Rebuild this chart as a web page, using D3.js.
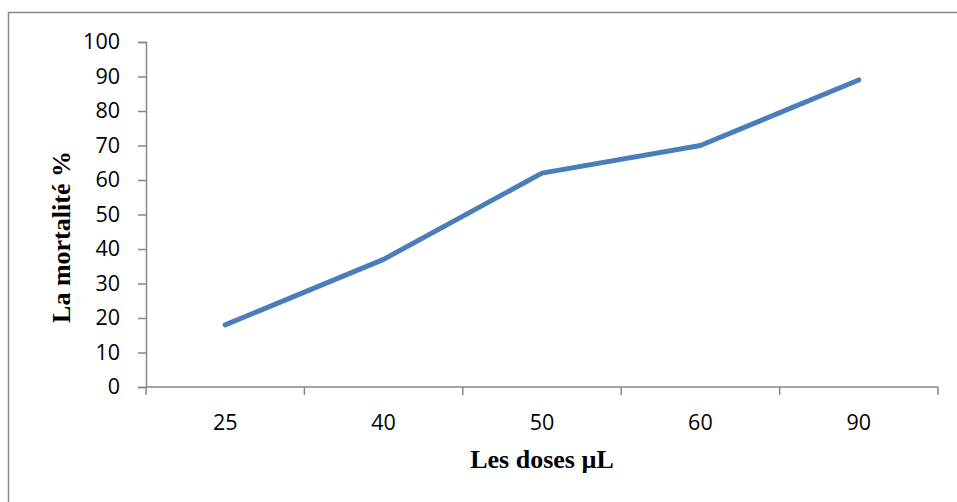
<!DOCTYPE html>
<html>
<head>
<meta charset="utf-8">
<script src="https://cdn.jsdelivr.net/npm/d3@7"></script>
<style>
  html, body { margin: 0; padding: 0; background: #fff; }
  svg { display: block; }
</style>
</head>
<body>
<svg id="chart" width="957" height="502"></svg>
<script>
// Mortality (%) by dose (µL)
const doses = ["25", "40", "50", "60", "90"];
const mortality = [18, 37, 62, 70, 89];
const yTicks = [0, 10, 20, 30, 40, 50, 60, 70, 80, 90, 100];
const xTitle = "Les doses µL";
const yTitle = "La mortalité %";

const svg = d3.select("#chart");
const axisColor = "#868686";
const lineColor = "#4A7EBB";

// chart frame
svg.append("rect")
  .attr("x", 8.5).attr("y", 12.5)
  .attr("width", 960).attr("height", 500)
  .attr("fill", "#fff")
  .attr("stroke", "#8c8c8c")
  .attr("stroke-width", 1.5);

const plot = { left: 146, right: 938, top: 42, bottom: 387 };

const x = d3.scaleBand().domain(doses).range([plot.left, plot.right]);
const y = d3.scaleLinear().domain([0, 100]).range([plot.bottom, plot.top]);

// y axis
const gy = svg.append("g").attr("transform", `translate(${plot.left},0)`)
  .call(d3.axisLeft(y).tickValues(yTicks).tickSize(8).tickPadding(18));
gy.select(".domain").attr("stroke", axisColor).attr("stroke-width", 1.5);
gy.selectAll(".tick line").attr("stroke", axisColor).attr("stroke-width", 1.5);
gy.selectAll(".tick text")
  .attr("fill", "#000")
  .style("font-family", "'Open Sans', sans-serif")
  .style("font-size", "21.5px");

// x axis: ticks sit on band boundaries
const gx = svg.append("g").attr("transform", `translate(0,${plot.bottom})`);
gx.append("line")
  .attr("x1", plot.left).attr("x2", plot.right)
  .attr("y1", 0).attr("y2", 0)
  .attr("stroke", axisColor).attr("stroke-width", 1.5);
const bounds = doses.map(d => x(d)).concat([plot.right]);
gx.selectAll("line.tk").data(bounds).enter().append("line")
  .attr("class", "tk")
  .attr("x1", d => d).attr("x2", d => d)
  .attr("y1", 0).attr("y2", 8)
  .attr("stroke", axisColor).attr("stroke-width", 1.5);
gx.selectAll("text.lbl").data(doses).enter().append("text")
  .attr("class", "lbl")
  .attr("x", d => x(d) + x.bandwidth() / 2)
  .attr("y", 43)
  .attr("text-anchor", "middle")
  .attr("fill", "#000")
  .style("font-family", "'Open Sans', sans-serif")
  .style("font-size", "21.5px")
  .text(d => d);

// data line
const line = d3.line()
  .x((d, i) => x(doses[i]) + x.bandwidth() / 2)
  .y(d => y(d));
svg.append("path")
  .datum(mortality)
  .attr("d", line)
  .attr("fill", "none")
  .attr("stroke", lineColor)
  .attr("stroke-width", 5)
  .attr("stroke-linecap", "round")
  .attr("stroke-linejoin", "round");

// axis titles
svg.append("text")
  .attr("x", (plot.left + plot.right) / 2)
  .attr("y", 468)
  .attr("text-anchor", "middle")
  .style("font-family", "'Liberation Serif', 'Times New Roman', serif")
  .style("font-weight", "bold")
  .style("font-size", "26px")
  .text(xTitle);

svg.append("text")
  .attr("transform", "translate(70,237) rotate(-90)")
  .attr("text-anchor", "middle")
  .style("font-family", "'Liberation Serif', 'Times New Roman', serif")
  .style("font-weight", "bold")
  .style("font-size", "26px")
  .text(yTitle);
</script>
</body>
</html>
